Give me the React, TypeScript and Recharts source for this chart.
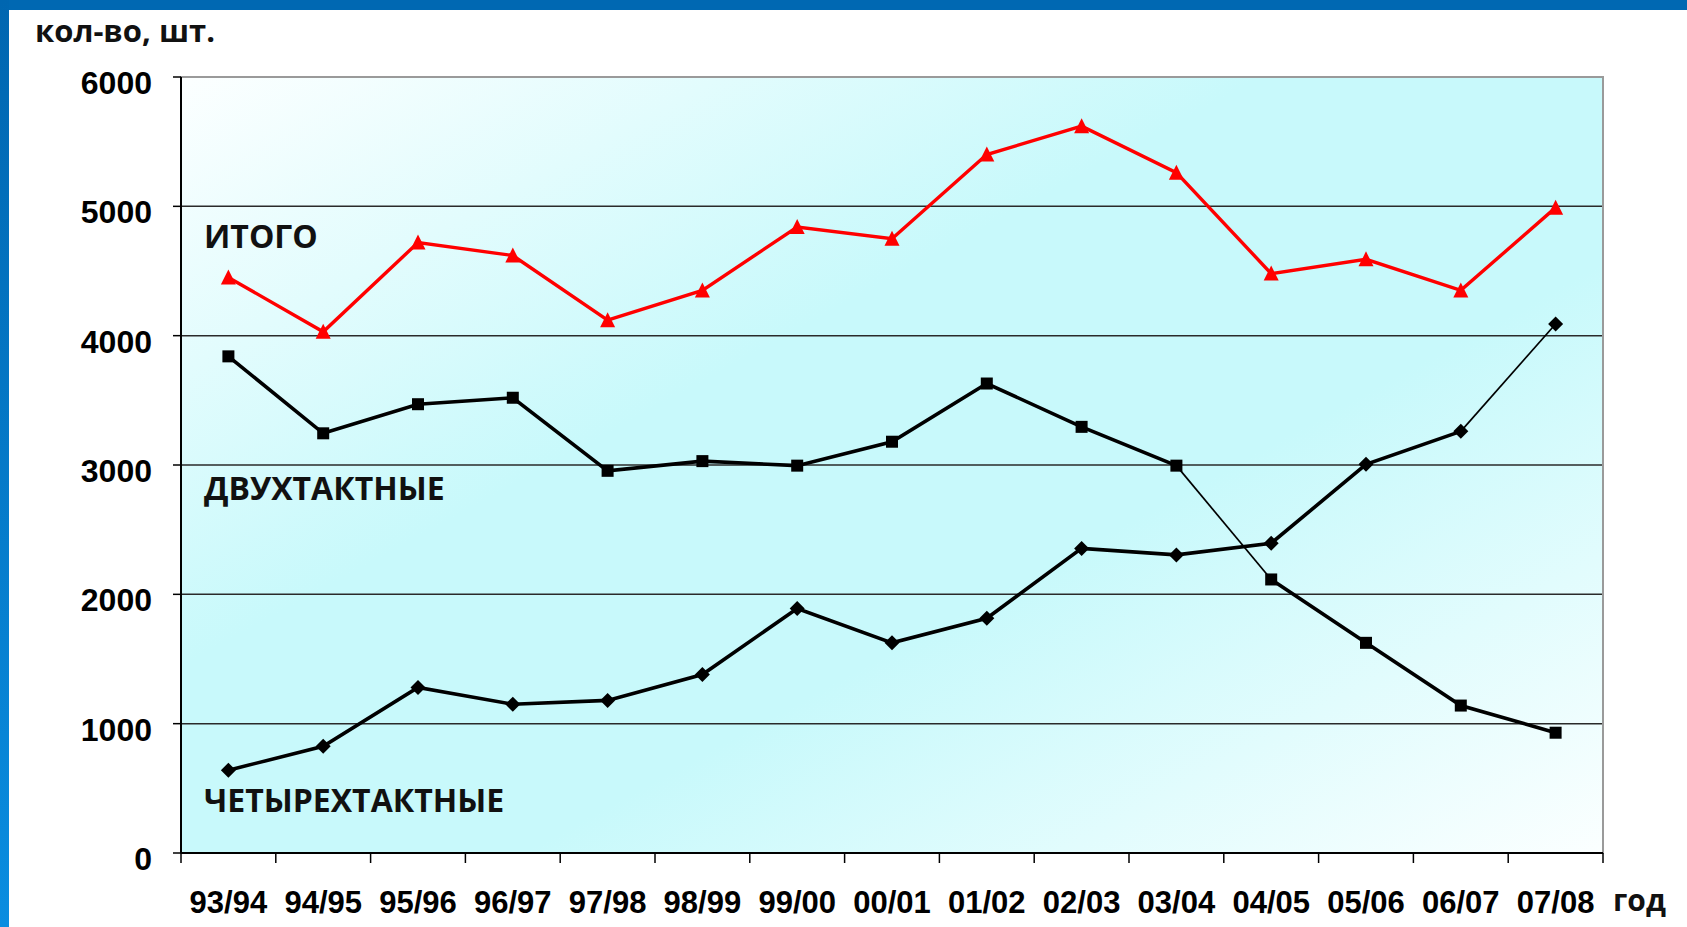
import React from "react";
import { ComposedChart, Line, XAxis, YAxis, CartesianGrid, ReferenceArea } from "recharts";

// сезоны
const years = ["93/94", "94/95", "95/96", "96/97", "97/98", "98/99", "99/00", "00/01", "01/02", "02/03", "03/04", "04/05", "05/06", "06/07", "07/08"];

// ИТОГО
const total = [4450, 4030, 4720, 4620, 4120, 4350, 4840, 4750, 5400, 5620, 5260, 4480, 4590, 4350, 4990];
// ДВУХТАКТНЫЕ
const twoStroke = [3840, 3245, 3470, 3520, 2955, 3030, 2995, 3180, 3630, 3295, 2995, 2115, 1625, 1140, 930];
// ЧЕТЫРЕХТАКТНЫЕ
const fourStroke = [640, 825, 1280, 1150, 1180, 1380, 1890, 1625, 1815, 2355, 2305, 2395, 3005, 3260, 4090];

const yTicks = [0, 1000, 2000, 3000, 4000, 5000, 6000];

// thin segments in the original drawing
const twoThinFrom = years.indexOf("03/04");
const fourThinFrom = years.indexOf("06/07");

const data = years.map((year, i) => ({
  year,
  total: total[i],
  two: twoStroke[i],
  twoA: i <= twoThinFrom ? twoStroke[i] : null,
  twoB: i > twoThinFrom ? twoStroke[i] : null,
  twoThin: i === twoThinFrom || i === twoThinFrom + 1 ? twoStroke[i] : null,
  four: fourStroke[i],
  fourA: i <= fourThinFrom ? fourStroke[i] : null,
  fourThin: i >= fourThinFrom ? fourStroke[i] : null,
}));

const TICK_FONT = "'Liberation Sans', Arial, sans-serif";
const LABEL_FONT = "'Open Sans', 'Noto Sans', sans-serif";

// category label plus the tick marks on the band edges (Excel style)
const XTick = ({ x, y, payload, index, visibleTicksCount }: any) => {
  const half = payload && payload.offset > 0 ? payload.offset : 47.4;
  const last = index === (visibleTicksCount ?? years.length) - 1;
  return (
    <g>
      <line x1={x - half} y1={y} x2={x - half} y2={y + 10} stroke="#000" strokeWidth={1.5} />
      {last && <line x1={x + half} y1={y} x2={x + half} y2={y + 10} stroke="#000" strokeWidth={1.5} />}
      <text x={x} y={y} dy={60} textAnchor="middle" fontSize={31} fontWeight={700} fontFamily={TICK_FONT} fill="#000">
        {payload.value}
      </text>
    </g>
  );
};

const YTick = ({ x, y, payload }: any) => (
  <text x={x} y={y} dy={17} textAnchor="end" fontSize={32} fontWeight={700} fontFamily={TICK_FONT} fill="#000">
    {payload.value}
  </text>
);

const Square = (p: any) => {
  if (p.cx == null || p.cy == null) return <g key={p.index} />;
  return <rect key={p.index} x={p.cx - 6} y={p.cy - 6} width={12} height={12} fill="#000" />;
};

const Diamond = (p: any) => {
  if (p.cx == null || p.cy == null) return <g key={p.index} />;
  const { cx, cy } = p;
  return <polygon key={p.index} points={`${cx},${cy - 7.5} ${cx + 7.5},${cy} ${cx},${cy + 7.5} ${cx - 7.5},${cy}`} fill="#000" />;
};

const Triangle = (p: any) => {
  if (p.cx == null || p.cy == null) return <g key={p.index} />;
  const { cx, cy } = p;
  return <polygon key={p.index} points={`${cx},${cy - 8} ${cx + 7.5},${cy + 7} ${cx - 7.5},${cy + 7}`} fill="#ff0000" />;
};

export default function App() {
  return (
    <div style={{ position: "fixed", left: 0, top: 0, width: 1687, height: 927, background: "#ffffff", overflow: "hidden" }}>
      <svg width={0} height={0} style={{ position: "absolute" }}>
        <defs>
          <linearGradient id="plotBg" x1="0" y1="0" x2="1" y2="1">
            <stop offset="0%" stopColor="#fcffff" />
            <stop offset="38%" stopColor="#c8f9fb" />
            <stop offset="62%" stopColor="#c8f9fb" />
            <stop offset="100%" stopColor="#fbffff" />
          </linearGradient>
          <linearGradient id="sideBar" x1="0" y1="0" x2="0" y2="1">
            <stop offset="0%" stopColor="#0066b0" />
            <stop offset="100%" stopColor="#0a8de0" />
          </linearGradient>
        </defs>
      </svg>

      <div style={{ position: "absolute", left: 0, top: 0 }}>
        <ComposedChart width={1687} height={927} data={data} margin={{ top: 77, right: 84, bottom: 0, left: 0 }}>
          <CartesianGrid vertical={false} horizontalValues={[1000, 2000, 3000, 4000, 5000]} stroke="#2a2a2a" strokeWidth={1.5} fill="url(#plotBg)" fillOpacity={1} />
          <ReferenceArea y1={0} y2={6000} fill="none" stroke="#9a9a9a" strokeWidth={2} ifOverflow="visible" />
          <XAxis
            dataKey="year"
            scale="band"
            interval={0}
            axisLine={{ stroke: "#000", strokeWidth: 2 }}
            tickLine={false}
            tickSize={0}
            tickMargin={0}
            tick={<XTick />}
            height={74}
          />
          <YAxis
            domain={[0, 6000]}
            ticks={yTicks}
            interval={0}
            width={181}
            tickSize={8}
            tickMargin={21}
            tickLine={{ stroke: "#000", strokeWidth: 1.5 }}
            axisLine={{ stroke: "#000", strokeWidth: 2 }}
            tick={<YTick />}
          />

          <Line dataKey="total" stroke="#ff0000" strokeWidth={3.4} dot={Triangle} isAnimationActive={false} />

          <Line dataKey="twoA" stroke="#000" strokeWidth={3.6} dot={false} isAnimationActive={false} />
          <Line dataKey="twoB" stroke="#000" strokeWidth={3.6} dot={false} isAnimationActive={false} />
          <Line dataKey="twoThin" stroke="#000" strokeWidth={1.7} dot={false} isAnimationActive={false} />
          <Line dataKey="two" stroke="none" dot={Square} isAnimationActive={false} />

          <Line dataKey="fourA" stroke="#000" strokeWidth={3.6} dot={false} isAnimationActive={false} />
          <Line dataKey="fourThin" stroke="#000" strokeWidth={1.7} dot={false} isAnimationActive={false} />
          <Line dataKey="four" stroke="none" dot={Diamond} isAnimationActive={false} />
        </ComposedChart>
      </div>

      <svg width={1687} height={927} style={{ position: "absolute", left: 0, top: 0, pointerEvents: "none" }}>
        <rect x={0} y={0} width={1687} height={10} fill="#0068b2" />
        <rect x={0} y={0} width={9} height={927} fill="url(#sideBar)" />
        <g fontFamily={LABEL_FONT} fontWeight={700} fill="#111">
          <text x={35} y={42} fontSize={31}>кол-во, шт.</text>
          <text x={204} y={248} fontSize={32}>ИТОГО</text>
          <text x={204} y={500} fontSize={32}>ДВУХТАКТНЫЕ</text>
          <text x={204} y={812} fontSize={32}>ЧЕТЫРЕХТАКТНЫЕ</text>
          <text x={1613} y={911} fontSize={30}>год</text>
        </g>
      </svg>
    </div>
  );
}
